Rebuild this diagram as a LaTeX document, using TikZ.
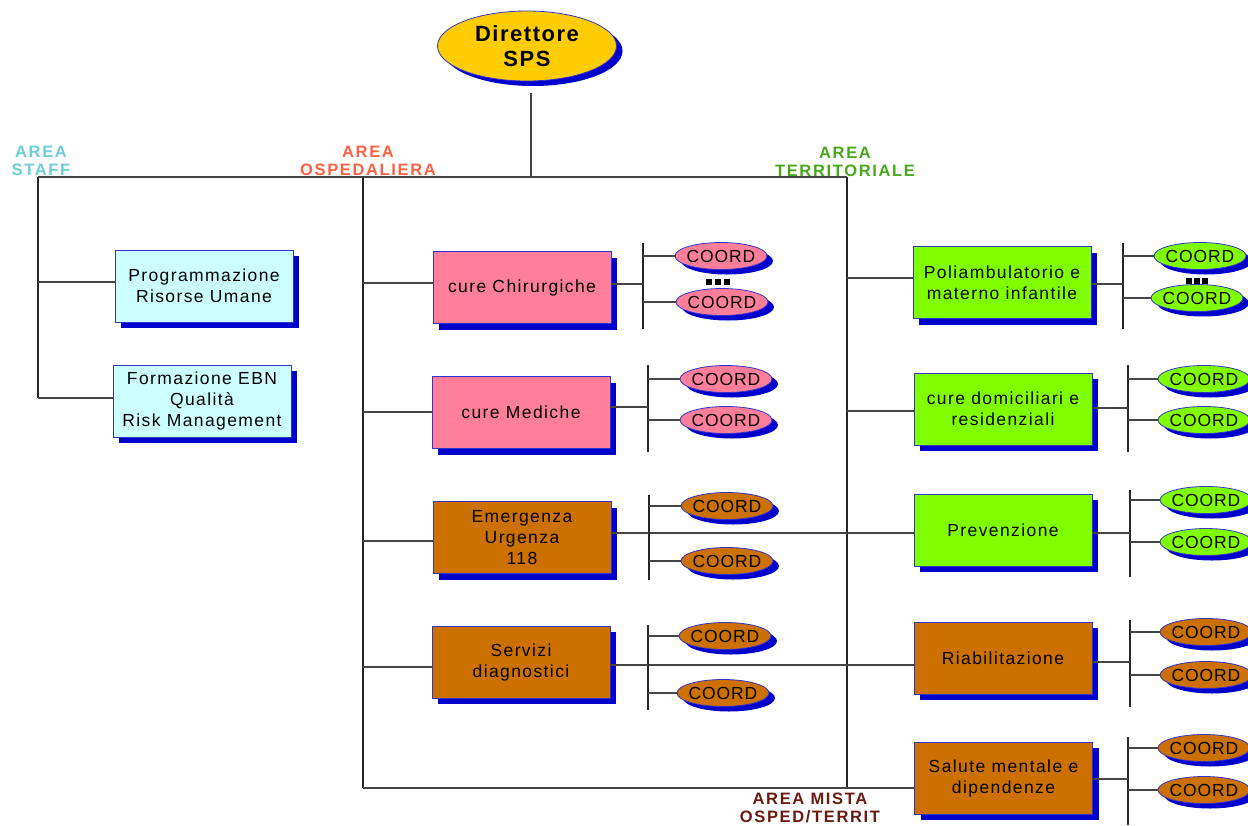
\documentclass[tikz,border=0pt]{standalone}
\usepackage{fontspec}
\setmainfont{Liberation Sans}
\newfontfamily\boxfont[LetterSpace=8]{Liberation Sans}
\newfontfamily\coordfont[LetterSpace=5]{Liberation Sans}
\newfontfamily\dirfont[LetterSpace=7]{Liberation Sans}
\newfontfamily\areafont[LetterSpace=10]{Liberation Sans}
\usetikzlibrary{shapes.geometric,shadows}
\definecolor{shblue}{HTML}{0000CC}
\definecolor{edgeblue}{HTML}{3333CC}
\definecolor{dirfill}{HTML}{FFCC00}
\definecolor{pinkf}{HTML}{FF7F9B}
\definecolor{brownf}{HTML}{CC7000}
\definecolor{greenf}{HTML}{80FF00}
\definecolor{cyanf}{HTML}{CCFFFF}
\definecolor{staffc}{HTML}{6CCCDC}
\definecolor{ospc}{HTML}{FF6040}
\definecolor{terc}{HTML}{48A818}
\definecolor{mistac}{HTML}{6B1A10}
\definecolor{linec}{HTML}{444444}
\newcommand\cgroup[9]{%
  \coordinate (#1t) at (#2,#3);
  \coordinate (#1b) at (#2,#4);
  \coordinate (#1j) at (#2,#8);
  \draw[vline] (#1t) -- (#1b);
  \node[coordell, fill=#7] (#1e1) at (#5) {\makebox[0pt]{COORD}};
  \node[coordell, fill=#7] (#1e2) at (#6) {\makebox[0pt]{COORD}};
  \draw[hline] (#1e1.west -| #1t) -- (#1e1.west);
  \draw[hline] (#1e2.west -| #1t) -- (#1e2.west);
  \draw[hline] (#9.east |- #1j) -- (#1j);
}
\begin{document}
\begin{tikzpicture}[x=1pt,y=-1pt,
  hline/.style={draw=linec, line width=1.1pt},
  vline/.style={draw=black!85, line width=1.2pt},
  stbox/.style={rectangle, draw=edgeblue, line width=0.8pt,
    minimum width=178pt, minimum height=72pt, inner sep=2pt, align=center,
    font=\boxfont\fontsize{17.5}{21}\selectfont,
    drop shadow={fill=shblue, opacity=1, shadow xshift=6pt, shadow yshift=-6pt}},
  coordell/.style={ellipse, draw=edgeblue, line width=0.8pt,
    minimum width=92pt, minimum height=27pt, inner sep=0pt,
    font=\coordfont\fontsize{17.5}{18}\selectfont,
    drop shadow={fill=shblue, opacity=1, shadow xshift=6pt, shadow yshift=-5pt}},
  arealab/.style={align=center, inner sep=0pt,
    font=\areafont\bfseries\fontsize{16.5}{18}\selectfont}
  ]
\useasboundingbox (0,0) rectangle (1248,825);
\fill[white] (0,0) rectangle (1248,825);

% director
\node[ellipse, draw=edgeblue, line width=0.8pt, fill=dirfill,
  minimum width=179pt, minimum height=70pt, inner sep=0pt, align=center,
  font=\dirfont\bfseries\fontsize{22}{25}\selectfont,
  drop shadow={fill=shblue, opacity=1, shadow xshift=6pt, shadow yshift=-5pt}]
  (dir) at (527,46) {Direttore\\SPS};

% area labels
\node[arealab, text=staffc] (astaff) at (41,161) {AREA\\STAFF};
\node[arealab, text=ospc] (aosp) at (368,161) {AREA\\OSPEDALIERA};
\node[arealab, text=terc] (ater) at (845,162) {AREA\\TERRITORIALE};
\node[arealab, text=mistac] (amis) at (810,808) {AREA MISTA\\OSPED/TERRIT};

% trunk coordinates
\coordinate (tj) at (531,177);
\coordinate (tl) at (38,177);
\coordinate (tr) at (847,177);
\coordinate (tm) at (363,177);
\coordinate (lb) at (38,398);
\coordinate (mb) at (363,788);
\coordinate (rb) at (847,788);

% boxes
\node[stbox, fill=cyanf] (prog) at (204,286) {Programmazione\\Risorse Umane};
\node[stbox, fill=cyanf] (form) at (202,401) {Formazione EBN\\Qualità\\Risk Management};
\node[stbox, fill=pinkf] (chir) at (522,287.5) {cure Chirurgiche};
\node[stbox, fill=pinkf] (med) at (521,412.5) {cure Mediche};
\node[stbox, fill=brownf] (emer) at (522,537.5) {Emergenza\\Urgenza\\118};
\node[stbox, fill=brownf] (serv) at (521,662) {Servizi\\diagnostici};
\node[stbox, fill=greenf] (poli) at (1002,282.5) {Poliambulatorio e\\materno infantile};
\node[stbox, fill=greenf] (dom) at (1003,409) {cure domiciliari e\\residenziali};
\node[stbox, fill=greenf] (prev) at (1003,530) {Prevenzione};
\node[stbox, fill=brownf] (riab) at (1003,658) {Riabilitazione};
\node[stbox, fill=brownf] (salu) at (1003.5,778) {Salute mentale e\\dipendenze};

% trunk lines
\draw[hline, shorten <=12pt] (dir.south -| tj) -- (tj);
\draw[hline] (tl) -- (tr);
\draw[vline] (tl) -- (lb);
\draw[vline] (tm) -- (mb);
\draw[vline] (tr) -- (rb);
\draw[hline] (mb) -- (salu.west |- mb);

% branches
\coordinate (l1) at (38,282);
\draw[hline] (l1) -- (prog.west |- l1);
\draw[hline] (lb) -- (form.west |- lb);
\coordinate (m1) at (363,283);
\coordinate (m2) at (363,412);
\coordinate (m3) at (363,541);
\coordinate (m4) at (363,667);
\draw[hline] (m1) -- (chir.west |- m1);
\draw[hline] (m2) -- (med.west |- m2);
\draw[hline] (m3) -- (emer.west |- m3);
\draw[hline] (m4) -- (serv.west |- m4);
\coordinate (r1) at (847,278);
\coordinate (r2) at (847,411);
\draw[hline] (r1) -- (poli.west |- r1);
\draw[hline] (r2) -- (dom.west |- r2);

% cross lines
\coordinate (x1) at (700,533);
\coordinate (x2) at (700,665);
\draw[hline] (emer.east |- x1) -- (prev.west |- x1);
\draw[hline] (serv.east |- x2) -- (riab.west |- x2);

% small squares
\fill (706,279) rectangle (712,285);
\fill (715,279) rectangle (721,285);
\fill (724,279) rectangle (730,285);
\fill (1186,278) rectangle (1192,284);
\fill (1194,278) rectangle (1200,284);
\fill (1202,278) rectangle (1208,284);

% coord groups
\cgroup{gc}{643}{243}{329}{721,256}{722,302}{pinkf}{284}{chir}
\cgroup{gm}{648}{365}{452}{726,379}{726,420}{pinkf}{407}{med}
\cgroup{ge}{649}{495}{580}{727,506}{727,561}{brownf}{533}{emer}
\cgroup{gs}{648}{625}{710}{725,636}{723,693}{brownf}{665}{serv}
\cgroup{gp}{1123}{243}{329}{1200,256}{1197,298}{greenf}{284}{poli}
\cgroup{gd}{1128}{365}{452}{1204,379}{1204,420}{greenf}{408}{dom}
\cgroup{gv}{1130}{490}{577}{1206,500}{1206,542}{greenf}{533}{prev}
\cgroup{gr}{1130}{620}{707}{1206,632}{1206,675}{brownf}{662}{riab}
\cgroup{gl}{1128}{737}{825}{1204,748}{1204,790}{brownf}{779}{salu}
\end{tikzpicture}
\end{document}
